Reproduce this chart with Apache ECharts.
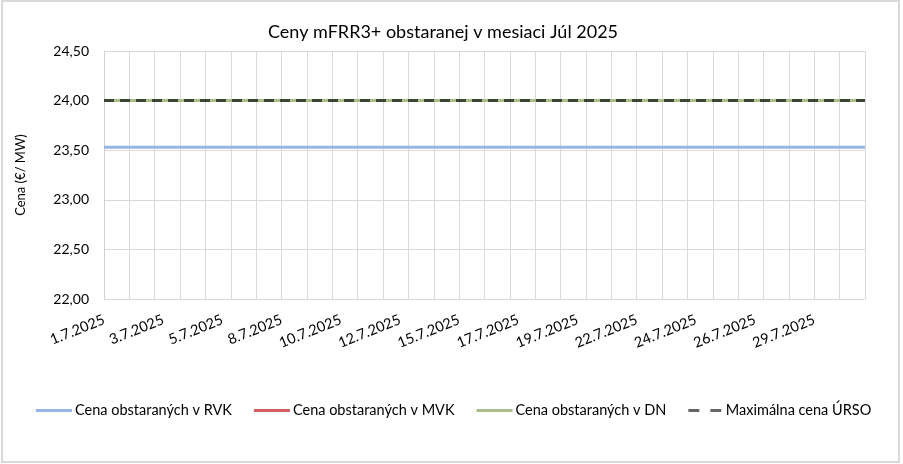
<!DOCTYPE html>
<html>
<head>
<meta charset="utf-8">
<script src="https://cdn.jsdelivr.net/npm/echarts@6/dist/echarts.min.js"></script>
<style>
  html, body { margin: 0; padding: 0; background: #fff; }
  #chart { width: 903px; height: 464px; }
</style>
</head>
<body>
<div id="chart"></div>
<script>
  // dátumy v mesiaci
  const days = [
    '1.7.2025', '2.7.2025', '3.7.2025', '4.7.2025', '5.7.2025', '6.7.2025', '7.7.2025', '8.7.2025',
    '9.7.2025', '10.7.2025', '11.7.2025', '12.7.2025', '13.7.2025', '14.7.2025', '15.7.2025', '16.7.2025',
    '17.7.2025', '18.7.2025', '19.7.2025', '20.7.2025', '21.7.2025', '22.7.2025', '23.7.2025', '24.7.2025',
    '25.7.2025', '26.7.2025', '27.7.2025', '28.7.2025', '29.7.2025', '30.7.2025', '31.7.2025'
  ];
  // popisky osi x (rovnomerne rozložené)
  const xLabels = [
    '1.7.2025', '3.7.2025', '5.7.2025', '8.7.2025', '10.7.2025', '12.7.2025', '15.7.2025',
    '17.7.2025', '19.7.2025', '22.7.2025', '24.7.2025', '26.7.2025', '29.7.2025'
  ];
  const rvk = [
    23.53, 23.53, 23.53, 23.53, 23.53, 23.53, 23.53, 23.53, 23.53, 23.53, 23.53,
    23.53, 23.53, 23.53, 23.53, 23.53, 23.53, 23.53, 23.53, 23.53, 23.53, 23.53,
    23.53, 23.53, 23.53, 23.53, 23.53, 23.53, 23.53, 23.53, 23.53
  ];
  const mvk = [
    24.00, 24.00, 24.00, 24.00, 24.00, 24.00, 24.00, 24.00, 24.00, 24.00, 24.00,
    24.00, 24.00, 24.00, 24.00, 24.00, 24.00, 24.00, 24.00, 24.00, 24.00, 24.00,
    24.00, 24.00, 24.00, 24.00, 24.00, 24.00, 24.00, 24.00, 24.00
  ];
  const dn = [
    24.00, 24.00, 24.00, 24.00, 24.00, 24.00, 24.00, 24.00, 24.00, 24.00, 24.00,
    24.00, 24.00, 24.00, 24.00, 24.00, 24.00, 24.00, 24.00, 24.00, 24.00, 24.00,
    24.00, 24.00, 24.00, 24.00, 24.00, 24.00, 24.00, 24.00, 24.00
  ];
  const maxUrso = [
    24.00, 24.00, 24.00, 24.00, 24.00, 24.00, 24.00, 24.00, 24.00, 24.00, 24.00,
    24.00, 24.00, 24.00, 24.00, 24.00, 24.00, 24.00, 24.00, 24.00, 24.00, 24.00,
    24.00, 24.00, 24.00, 24.00, 24.00, 24.00, 24.00, 24.00, 24.00
  ];

  const font = 'Lato';
  const labelStep = (days.length - 3) / (xLabels.length - 1);

  const chart = echarts.init(document.getElementById('chart'));
  chart.setOption({
    textStyle: { fontFamily: font },
    title: {
      text: 'Ceny mFRR3+ obstaranej v mesiaci Júl 2025',
      left: 263,
      top: 18,
      textStyle: { fontFamily: font, fontSize: 18, fontWeight: 'normal', color: '#000' }
    },
    graphic: [{
      type: 'rect',
      shape: { x: 2, y: 1, width: 897, height: 461 },
      style: { fill: 'none', stroke: '#d9d9d9', lineWidth: 2 },
      silent: true
    }],
    grid: { left: 104, right: 38, top: 51, bottom: 165 },
    legend: {
      bottom: 41,
      left: 31,
      itemWidth: 36,
      itemHeight: 3,
      itemGap: 22,
      icon: 'rect',
      textStyle: { fontFamily: font, fontSize: 14.5, color: '#000', padding: [0, 0, 0, -2] },
      data: [
        { name: 'Cena obstaraných v RVK' },
        { name: 'Cena obstaraných v MVK' },
        { name: 'Cena obstaraných v DN' },
        {
          name: 'Maximálna cena ÚRSO',
          icon: 'path://M0,0h11v3h-11z M22,0h11v3h-11z',
          itemStyle: { color: '#666' }
        }
      ]
    },
    xAxis: [{
      type: 'category',
      data: days,
      boundaryGap: false,
      axisLine: { lineStyle: { color: '#d9d9d9', width: 1 } },
      axisTick: { show: false, interval: 0 },
      axisLabel: { show: false },
      splitLine: { show: true, interval: 0, lineStyle: { color: '#d9d9d9', width: 1 } }
    }, {
      type: 'value',
      position: 'bottom',
      min: 0,
      max: days.length - 1,
      interval: labelStep,
      axisLine: { show: false },
      axisTick: { show: false },
      splitLine: { show: false },
      axisLabel: {
        rotate: 22,
        margin: 20,
        showMaxLabel: false,
        fontFamily: font,
        fontSize: 14.5,
        color: '#000',
        formatter: function (v) {
          const i = Math.round(v / labelStep);
          if (Math.abs(i * labelStep - v) > 1e-6) return '';
          return xLabels[i] || '';
        }
      }
    }],
    yAxis: {
      type: 'value',
      min: 22,
      max: 24.5,
      interval: 0.5,
      name: 'Cena (€/ MW)',
      nameLocation: 'middle',
      nameGap: 77,
      nameRotate: 90,
      nameTextStyle: { fontFamily: font, fontSize: 13, color: '#000' },
      axisLine: { show: true, lineStyle: { color: '#d0d0d0' } },
      axisTick: { show: false },
      axisLabel: {
        margin: 15,
        fontFamily: font,
        fontSize: 14,
        color: '#000',
        formatter: v => v.toFixed(2).replace('.', ',')
      },
      splitLine: { lineStyle: { color: '#d9d9d9', width: 1 } }
    },
    series: [{
      name: 'Cena obstaraných v RVK',
      type: 'line',
      data: rvk,
      symbol: 'none',
      color: '#95b5e3',
      lineStyle: { width: 3, color: '#95b5e3' }
    }, {
      name: 'Cena obstaraných v MVK',
      type: 'line',
      data: mvk,
      symbol: 'none',
      color: '#d45f5f',
      lineStyle: { width: 3, color: '#d45f5f' }
    }, {
      name: 'Cena obstaraných v DN',
      type: 'line',
      data: dn,
      symbol: 'none',
      color: '#a8bd88',
      lineStyle: { width: 3, color: '#a8bd88' }
    }, {
      name: 'Maximálna cena ÚRSO',
      type: 'line',
      data: maxUrso,
      symbol: 'none',
      color: '#3b4532',
      lineStyle: { width: 3, color: '#3b4532', type: [10, 6] }
    }]
  });
</script>
</body>
</html>
